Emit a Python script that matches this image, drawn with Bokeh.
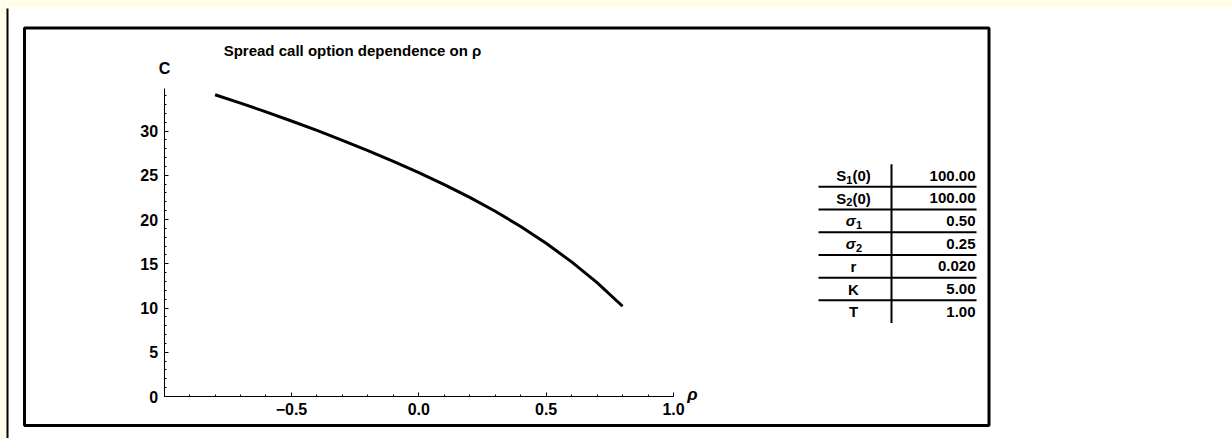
from bokeh.plotting import figure
from bokeh.models import (LinearAxis, FixedTicker, CustomJSTickFormatter, ColumnDataSource,
                          Label, Range1d)
from bokeh.core.properties import value
from bokeh.embed import file_html
from bokeh.resources import INLINE

# ---------------- data ----------------
rho = [-0.8, -0.7, -0.6, -0.5, -0.4, -0.3, -0.2, -0.1, 0.0,
       0.1, 0.2, 0.3, 0.4, 0.5, 0.6, 0.7, 0.8]
price = [34.10, 33.15, 32.16, 31.13, 30.06, 28.95, 27.79, 26.57, 25.30,
         23.95, 22.50, 20.93, 19.21, 17.31, 15.21, 12.86, 10.20]
x_major = [-0.5, 0.0, 0.5, 1.0]
x_minor = [round(-0.9 + 0.1 * i, 1) for i in range(19)]
y_major = [0, 5, 10, 15, 20, 25, 30]
y_minor = list(range(0, 35))
title_text = "Spread call option dependence on \u03c1"
x_label = "\u03c1"
y_label = "C"
param_base = ["S", "S", "\u03c3", "\u03c3", "r", "K", "T"]
param_sub = ["1", "2", "1", "2", "", "", ""]
param_tail = ["(0)", "(0)", "", "", "", "", ""]
param_italic = [False, False, True, True, False, False, False]
param_values = ["100.00", "100.00", "0.50", "0.25", "0.020", "5.00", "1.00"]

# ---------------- page-pixel -> data helpers (layout only) ----------------
PX0, PXU = 418.3, 254.7   # page x of rho=0, pixels per unit
PY0, PYU = 396.0, 8.85    # page y of C=0, pixels per unit
def dx(px):
    return (px - PX0) / PXU
def dy(py):
    return (PY0 - py) / PYU

W, H = 1232, 438
FONT = "Liberation Sans"

p = figure(width=W, height=H, output_backend="svg", toolbar_location=None,
           x_range=Range1d(dx(0), dx(W)), y_range=Range1d(dy(H), dy(0)),
           x_axis_location=None, y_axis_location=None, min_border=0,
           outline_line_color=None, background_fill_color="white",
           border_fill_color="white")
p.grid.visible = False

# page decoration: yellow margin strips and the left bracket line
p.quad(left=[dx(0)], right=[dx(W)], top=[dy(0)], bottom=[dy(6)],
       fill_color="#FFFDE3", line_color=None)
p.quad(left=[dx(0)], right=[dx(6)], top=[dy(0)], bottom=[dy(H)],
       fill_color="#FFFDE3", line_color=None)
p.quad(left=[dx(6)], right=[dx(8)], top=[dy(8)], bottom=[dy(H)],
       fill_color="black", line_color=None)

# outer frame box
p.quad(left=[dx(24)], right=[dx(988.5)], top=[dy(27.5)], bottom=[dy(425)],
       fill_color=None, line_color="black", line_width=3)

# axes
xaxis = LinearAxis(fixed_location=0, bounds=(-1, 1),
                   ticker=FixedTicker(ticks=x_major, minor_ticks=x_minor),
                   formatter=CustomJSTickFormatter(code="return tick.toFixed(1).replace('-', '\\u2212');"))
yaxis = LinearAxis(fixed_location=-1.0, bounds=(0, 34.8),
                   ticker=FixedTicker(ticks=y_major, minor_ticks=y_minor))
for ax in (xaxis, yaxis):
    ax.axis_line_color = "black"
    ax.axis_line_width = 1
    ax.major_tick_in = 4
    ax.major_tick_out = 0
    ax.minor_tick_in = 2
    ax.minor_tick_out = 0
    ax.major_tick_line_color = "black"
    ax.minor_tick_line_color = "black"
    ax.major_label_text_font = FONT
    ax.major_label_text_font_style = "bold"
    ax.major_label_text_font_size = "16px"
    ax.major_label_text_color = "black"
    ax.major_label_standoff = 6
p.add_layout(xaxis, "below")
p.add_layout(yaxis, "left")

# curve
src = ColumnDataSource(dict(x=rho, y=price))
p.line("x", "y", source=src, line_width=3, line_color="black", line_join="round")

# title and axis labels
p.add_layout(Label(x=dx(352), y=dy(50), text=title_text, text_align="center",
                   text_baseline="middle", text_font=FONT, text_font_style="bold",
                   text_font_size="15px", text_color="black"))
p.add_layout(Label(x=dx(164), y=dy(68), text=y_label, text_align="center",
                   text_baseline="middle", text_font=FONT, text_font_style="bold",
                   text_font_size="16px", text_color="black"))
p.add_layout(Label(x=dx(692), y=dy(394), text=x_label, text_align="center",
                   text_baseline="middle", text_font=FONT, text_font_style="bold italic",
                   text_font_size="17px", text_color="black"))

# parameter table
row_top, row_h = 175.0, 22.7
label_cx, vline_x, value_rx, line_x0, line_x1 = 853, 891, 975, 818, 976
FS, SS = 15, 11   # main and subscript font sizes (px)
GW = {"S": 0.667, "\u03c3": 0.62, "r": 0.389, "K": 0.722, "T": 0.611,
      "(": 0.333, ")": 0.333, "0": 0.556, "1": 0.556, "2": 0.556}
def tw(s, size):
    return sum(GW[c] for c in s) * size

n = len(param_base)
row_y = [dy(row_top + i * row_h) for i in range(n)]
pc = dict(x=[], y=[], t=[], xo=[], yo=[], fs=[], st=[])
for i in range(n):
    b, s, t = param_base[i], param_sub[i], param_tail[i]
    wb, ws, wt = tw(b, FS), tw(s, SS), tw(t, FS)
    x0 = -(wb + ws + wt) / 2
    pieces = [(b, x0, 0, FS, "bold italic" if param_italic[i] else "bold"),
              (s, x0 + wb + (1 if param_italic[i] else 0), 4, SS, "bold"),
              (t, x0 + wb + ws, 0, FS, "bold")]
    for txt, xo, yo, fs, st in pieces:
        if not txt:
            continue
        pc["x"].append(dx(label_cx)); pc["y"].append(row_y[i]); pc["t"].append(txt)
        pc["xo"].append(xo); pc["yo"].append(yo); pc["fs"].append(f"{fs}px"); pc["st"].append(st)
p.text("x", "y", text="t", source=ColumnDataSource(pc), x_offset="xo", y_offset="yo",
       text_align="left", text_baseline="middle", text_font=value(FONT),
       text_font_style="st", text_font_size="fs", text_color="black")

vsrc = ColumnDataSource(dict(vx=[dx(value_rx)] * n, y=row_y, val=param_values))
p.text("vx", "y", text="val", source=vsrc, text_align="right", text_baseline="middle",
       text_font=value(FONT), text_font_style="bold", text_font_size=f"{FS}px",
       text_color="black")
hy = [dy(row_top + i * row_h + row_h / 2) for i in range(n - 1)]
p.segment(x0=[dx(line_x0)] * (n - 1), x1=[dx(line_x1)] * (n - 1), y0=hy, y1=hy,
          line_color="black", line_width=2)
p.segment(x0=[dx(vline_x)], x1=[dx(vline_x)],
          y0=[dy(row_top - row_h / 2)], y1=[dy(row_top + (n - 1) * row_h + row_h / 2)],
          line_color="black", line_width=2)

open("out.html", "w").write(file_html(p, INLINE))
